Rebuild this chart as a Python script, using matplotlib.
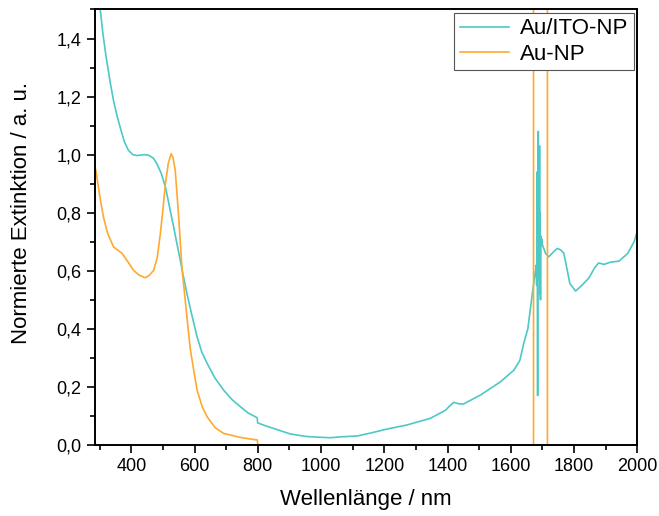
import matplotlib.pyplot as plt
import numpy as np
from matplotlib.ticker import MultipleLocator, FuncFormatter

# Au/ITO-NP spectrum
wl_ito = [285, 295, 302, 310, 320, 334, 345, 356, 366, 378, 391, 405, 418, 440,
          455, 470, 481, 495, 508, 521, 534, 545, 555, 565, 576, 590, 608, 623,
          640, 665, 692, 718, 745, 770, 798, 800, 825, 850, 903, 956, 1009, 1030,
          1061, 1114, 1160, 1209, 1272, 1346, 1394, 1410, 1420, 1435, 1450, 1504,
          1568, 1610, 1629, 1641, 1654, 1668, 1678, 1680, 1681, 1682, 1683, 1684,
          1685, 1686, 1687, 1688, 1689, 1690, 1691, 1692, 1693, 1694, 1695, 1696,
          1698, 1700, 1710, 1720, 1735, 1747, 1758, 1768, 1787, 1805, 1825, 1847,
          1865, 1878, 1895, 1916, 1942, 1970, 1990, 2000]
ext_ito = [1.62, 1.55, 1.50, 1.42, 1.34, 1.245, 1.18, 1.13, 1.09, 1.045, 1.015,
           1.0, 0.997, 1.0, 0.998, 0.988, 0.969, 0.935, 0.889, 0.82, 0.751, 0.69,
           0.636, 0.58, 0.522, 0.455, 0.373, 0.32, 0.281, 0.23, 0.189, 0.157,
           0.132, 0.11, 0.094, 0.076, 0.066, 0.057, 0.038, 0.029, 0.026, 0.025,
           0.028, 0.031, 0.042, 0.055, 0.069, 0.092, 0.120, 0.138, 0.147, 0.142,
           0.141, 0.172, 0.218, 0.258, 0.292, 0.35, 0.40, 0.52, 0.60, 0.60, 0.62,
           0.55, 0.94, 0.60, 0.17, 0.70, 1.08, 0.58, 0.90, 0.62, 1.03, 0.52, 0.80,
           0.50, 0.72, 0.69, 0.71, 0.69, 0.66, 0.648, 0.665, 0.677, 0.672, 0.66,
           0.556, 0.53, 0.55, 0.575, 0.61, 0.627, 0.622, 0.63, 0.633, 0.66, 0.70,
           0.735]

# Au-NP spectrum, incl. the two off-scale jumps near 1672/1716 nm
wl_np = [285, 289, 300, 312, 325, 344, 371, 390, 407, 425, 444, 458, 471, 482,
         492, 500, 508, 517, 526, 532, 539, 550, 560, 576, 587, 608, 625, 640,
         665, 692, 745, 799, 800, np.nan, 1672, 1672, np.nan, 1716, 1716]
ext_np = [0.96, 0.94, 0.86, 0.785, 0.73, 0.682, 0.66, 0.63, 0.602, 0.585, 0.576,
          0.585, 0.602, 0.645, 0.728, 0.81, 0.90, 0.97, 1.003, 0.99, 0.946,
          0.785, 0.613, 0.441, 0.327, 0.189, 0.13, 0.097, 0.06, 0.040, 0.026,
          0.017, 0.0, np.nan, -5, 5, np.nan, -5, 5]

plt.rcParams['font.family'] = ['Liberation Sans', 'DejaVu Sans']

fig = plt.figure(figsize=(6.59, 5.16), dpi=100)
ax = fig.add_axes([0.144, 0.1376, 0.823, 0.844])

ax.plot(wl_ito, ext_ito, color='#4CC9C6', lw=1.2, label='Au/ITO-NP')
ax.plot(wl_np, ext_np, color='#FFA92E', lw=1.2, label='Au-NP')

ax.set_xlim(285, 2000)
ax.set_ylim(0, 1.5)
ax.xaxis.set_major_locator(MultipleLocator(200))
ax.xaxis.set_minor_locator(MultipleLocator(100))
ax.yaxis.set_major_locator(MultipleLocator(0.2))
ax.yaxis.set_minor_locator(MultipleLocator(0.1))
ax.yaxis.set_major_formatter(FuncFormatter(lambda v, p: f'{v:.1f}'.replace('.', ',')))
ax.tick_params(which='major', direction='out', length=6, width=1.2, labelsize=13)
ax.tick_params(which='minor', direction='out', length=3.5, width=1.2)
for s in ax.spines.values():
    s.set_linewidth(1.4)

ax.set_xlabel('Wellenlänge / nm', fontsize=16, labelpad=10)
ax.set_ylabel('Normierte Extinktion / a. u.', fontsize=16)
ax.yaxis.set_label_coords(-0.116, 0.533)

leg = ax.legend(loc='upper right', fontsize=16, fancybox=False, framealpha=1,
                edgecolor='#555555', borderaxespad=0.15, handlelength=2.2,
                borderpad=0.25, labelspacing=0.2, handletextpad=0.5)
leg.get_frame().set_linewidth(0.8)

fig.savefig('out.png', dpi=100)
